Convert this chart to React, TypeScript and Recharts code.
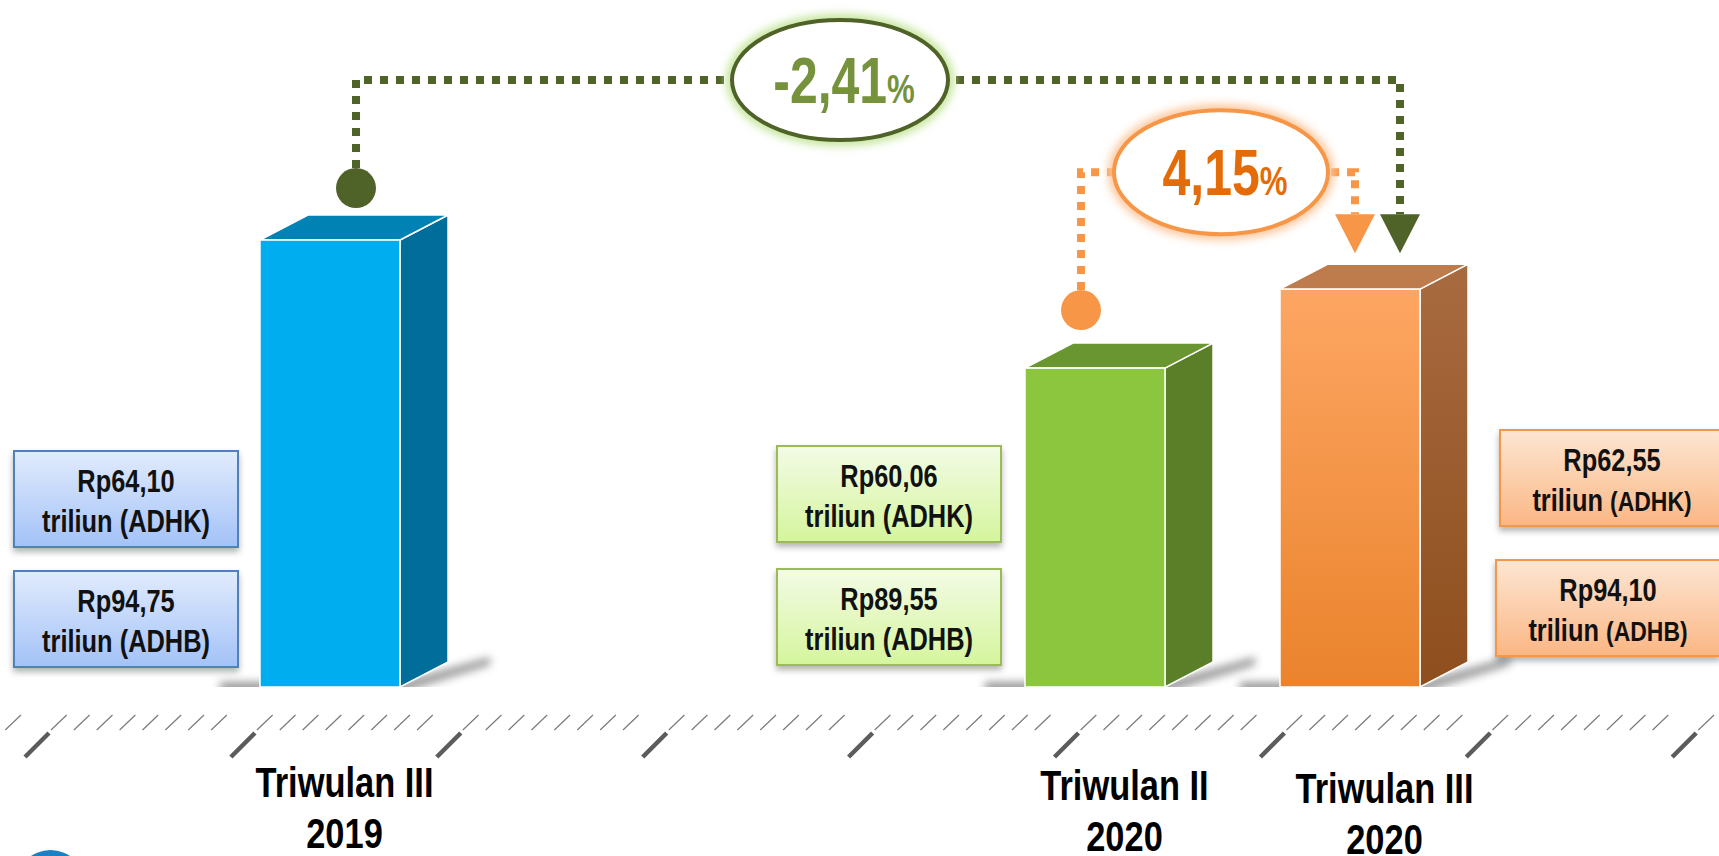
import React from 'react';
import { BarChart, Bar, XAxis, YAxis, ReferenceLine, Customized } from 'recharts';

// ---------- data ----------
const QUARTERS = ['Triwulan III 2019', 'Triwulan IV 2019', 'Triwulan I 2020', 'Triwulan II 2020', 'Triwulan III 2020'];
const ADHK = [64.1, null, null, 60.06, 62.55]; // triliun rupiah, constant prices
const ADHB = [94.75, null, null, 89.55, 94.1]; // triliun rupiah, current prices
const GROWTH_FROM = [0, 3];
const GROWTH_TO = [4, 4];
const GROWTH_VALUES = [-2.41, 4.15];

const data = QUARTERS.map((q, i) => ({ quarter: q, adhk: ADHK[i], adhb: ADHB[i] }));

// ---------- styles ----------
const FONT = "'Liberation Sans', Arial, sans-serif";
const NARROW_SCALE = 0.82;
const W = 1719;
const H = 856;
const DEPTH_X = 48;
const DEPTH_Y = 25;

type BarStyle = {
  front: string;
  side: string;
  top: string;
  boxTop: string;
  boxBottom: string;
  boxStroke: string;
  boxSide: 'left' | 'right';
  boxGap: number[];
  boxBottoms: number[];
  labelDx: number;
  labelDy: number;
  smallUnit: boolean;
};

const STYLES: (BarStyle | null)[] = [
  {
    front: '#00aeef', side: '#006d9b', top: '#0083b4',
    boxTop: '#e1ebfd', boxBottom: '#a3c2f7', boxStroke: '#4f81bd',
    boxSide: 'left', boxGap: [22, 22], boxBottoms: [140, 20], labelDx: 15, labelDy: 0, smallUnit: false,
  },
  null,
  null,
  {
    front: '#8cc63f', side: '#5b7f28', top: '#6a9632',
    boxTop: '#f3fbe6', boxBottom: '#d5f59c', boxStroke: '#9bbb59',
    boxSide: 'left', boxGap: [24, 24], boxBottoms: [145, 22], labelDx: 30, labelDy: 3, smallUnit: false,
  },
  {
    front: 'url(#orangeFront)', side: 'url(#orangeSide)', top: '#be7b4c',
    boxTop: '#fde6d3', boxBottom: '#fbb684', boxStroke: '#f79646',
    boxSide: 'right', boxGap: [32, 28], boxBottoms: [161, 31], labelDx: 35, labelDy: 6, smallUnit: true,
  },
];

type ConnStyle = {
  color: string; text: string; glow: string;
  fromDx: number; dotDy: number; toDx: number; tipDy: number; rise: number;
  ellDx: number; rx: number; ry: number;
};
const CONNECTORS: ConnStyle[] = [
  { color: '#4f6228', text: '#76923c', glow: '#c5e59b', fromDx: 26.5, dotDy: -52, toDx: 50.5, tipDy: -36, rise: 160, ellDx: -38, rx: 108, ry: 60 },
  { color: '#f79646', text: '#e36c09', glow: '#fcc79c', fromDx: -13.5, dotDy: -58, toDx: 5.5, tipDy: -36, rise: 117, ellDx: 3, rx: 107, ry: 62 },
];

const fmt = (v: number) => v.toFixed(2).replace('.', ',');

// narrow bold text (Arial-Narrow look made by squeezing Liberation Sans Bold)
function NText(props: { x: number; y: number; size: number; fill: string; children: React.ReactNode; scale?: number }) {
  const sc = props.scale ?? NARROW_SCALE;
  return (
    <text
      transform={`translate(${props.x},${props.y}) scale(${sc},1)`}
      x={0}
      y={0}
      textAnchor="middle"
      fontFamily={FONT}
      fontWeight="bold"
      fontSize={props.size}
      fill={props.fill}
    >
      {props.children}
    </text>
  );
}

// ---------- decoration: defs, timeline, logo ----------
function Decor() {
  const majors: number[] = [];
  for (let m = 0; m < 9; m++) majors.push(25 + 205.9 * m);
  const minors: number[] = [];
  for (let k = -2; 51 + 22.88 * k < W; k++) {
    const mod = ((k % 9) + 9) % 9;
    if (mod !== 8) minors.push(51 + 22.88 * k);
  }
  return (
    <g>
      <defs>
        <linearGradient id="orangeFront" x1="0" y1="0" x2="0" y2="1">
          <stop offset="0" stopColor="#fda663" />
          <stop offset="1" stopColor="#ea832c" />
        </linearGradient>
        <linearGradient id="orangeSide" x1="0" y1="0" x2="0" y2="1">
          <stop offset="0" stopColor="#a86b40" />
          <stop offset="1" stopColor="#8e4e1d" />
        </linearGradient>
        {STYLES.map((s, i) =>
          s ? (
            <linearGradient key={i} id={`box${i}`} x1="0" y1="0" x2="0" y2="1">
              <stop offset="0" stopColor={s.boxTop} />
              <stop offset="1" stopColor={s.boxBottom} />
            </linearGradient>
          ) : null
        )}
        <filter id="blur4" x="-50%" y="-50%" width="200%" height="200%">
          <feGaussianBlur stdDeviation="4" />
        </filter>
        <filter id="blurShadow" x="-50%" y="-300%" width="200%" height="700%">
          <feGaussianBlur stdDeviation="4" />
        </filter>
        <filter id="boxShadow" x="-20%" y="-20%" width="140%" height="150%">
          <feDropShadow dx="0" dy="4" stdDeviation="3" floodColor="#000" floodOpacity="0.3" />
        </filter>
      </defs>
      {minors.map((x, i) => (
        <line key={`mn${i}`} x1={x} y1={730} x2={x + 15.7} y2={715} stroke="#7a7a7a" strokeWidth={1.2} />
      ))}
      {majors.map((x, i) => (
        <line key={`mj${i}`} x1={x} y1={757} x2={x + 24} y2={733} stroke="#5c5c5c" strokeWidth={4.5} />
      ))}
      <circle cx={50.5} cy={885} r={35} fill="#1b80c4" />
    </g>
  );
}

// ---------- value boxes ----------
function ValueBoxes({ index, x, width, b }: { index: number; x: number; width: number; b: number }) {
  const s = STYLES[index] as BarStyle;
  const bw = 224;
  const bh = 96;
  const entries = [
    { v: ADHK[index] as number, unit: '(ADHK)' },
    { v: ADHB[index] as number, unit: '(ADHB)' },
  ];
  return (
    <g>
      {entries.map((e, k) => {
        const left = s.boxSide === 'left' ? x - s.boxGap[k] - bw : x + width + DEPTH_X + s.boxGap[k];
        const topY = b - s.boxBottoms[k] - bh;
        const cx = left + bw / 2;
        return (
          <g key={k}>
            <rect x={left} y={topY} width={bw} height={bh} fill={`url(#box${index})`} stroke={s.boxStroke}
              strokeWidth={2} filter="url(#boxShadow)" />
            <NText x={cx} y={topY + 41} size={31} fill="#111">{`Rp${fmt(e.v)}`}</NText>
            <NText x={cx} y={topY + 81} size={31} fill="#111">
              {'triliun '}
              {s.smallUnit ? <tspan fontSize={28}>{e.unit}</tspan> : e.unit}
            </NText>
          </g>
        );
      })}
    </g>
  );
}

// ---------- 3D bar ----------
function Bar3D(props: any) {
  const { x, y, width, height, payload } = props;
  const index = payload ? QUARTERS.indexOf(payload.quarter) : -1;
  const s = STYLES[index];
  if (!s || ADHK[index] == null || !isFinite(height) || !isFinite(y)) return null;
  const b = y + height;
  const r = x + width;
  const pts = (a: number[][]) => a.map((p) => p.join(',')).join(' ');
  const shadow = pts([
    [x - 40, b + 6], [r, b + 6], [r + DEPTH_X + 42, b - DEPTH_Y + 3],
    [r + DEPTH_X + 42, b - DEPTH_Y - 5], [r, b - 5], [x - 40, b - 5],
  ]);
  const top = pts([[x, y], [r, y], [r + DEPTH_X, y - DEPTH_Y], [x + DEPTH_X, y - DEPTH_Y]]);
  const side = pts([[r, y], [r + DEPTH_X, y - DEPTH_Y], [r + DEPTH_X, b - DEPTH_Y], [r, b]]);
  return (
    <g>
      <polygon points={shadow} fill="#444" opacity={0.55} filter="url(#blurShadow)" />
      <polygon points={side} fill={s.side} stroke="#ffffff" strokeWidth={1.5} strokeLinejoin="round" />
      <polygon points={top} fill={s.top} stroke="#ffffff" strokeWidth={1.5} strokeLinejoin="round" />
      <rect x={x} y={y} width={width} height={height} fill={s.front} stroke="#ffffff" strokeWidth={1.5} />
      <ValueBoxes index={index} x={x} width={width} b={b} />
    </g>
  );
}

// ---------- growth connectors ----------
function makeConnector(ci: number) {
  return function Connector(p: any) {
    const c = CONNECTORS[ci];
    const { x1, y1, x2, y2 } = p;
    if (![x1, y1, x2, y2].every((v) => isFinite(v))) return <g />;
    const sx = x1 + c.fromDx;
    const dotY = y1 + c.dotDy;
    const tx = x2 + c.toDx;
    const tipY = y2 + c.tipDy;
    const ly = Math.min(y1, y2) - c.rise;
    const ex = (sx + tx) / 2 + c.ellDx;
    const val = GROWTH_VALUES[ci];
    return (
      <g>
        <path d={`M${sx},${dotY - 20} V${ly} H${tx} V${tipY - 39}`} fill="none" stroke={c.color} strokeWidth={8}
          strokeDasharray="8 8" />
        <circle cx={sx} cy={dotY} r={20} fill={c.color} />
        <polygon points={`${tx - 20},${tipY - 39} ${tx + 20},${tipY - 39} ${tx},${tipY}`} fill={c.color} />
        <ellipse cx={ex} cy={ly} rx={c.rx} ry={c.ry} fill="none" stroke={c.glow} strokeWidth={12} filter="url(#blur4)" />
        <ellipse cx={ex} cy={ly} rx={c.rx} ry={c.ry} fill="#ffffff" stroke={c.color} strokeWidth={4} />
        <NText x={ex + 4} y={ly + 23} size={64} fill={c.text} scale={0.78}>
          {fmt(val)}
          <tspan fontSize={40}>%</tspan>
        </NText>
      </g>
    );
  };
}

// ---------- axis labels ----------
function QuarterTick(props: any) {
  const { x, y, payload } = props;
  const i = QUARTERS.indexOf(payload.value);
  const s = STYLES[i];
  if (!s || ADHK[i] == null) return <g />;
  const label: string = payload.value;
  const cut = label.lastIndexOf(' ');
  const line1 = label.slice(0, cut);
  const line2 = label.slice(cut + 1);
  const cx = x + s.labelDx;
  const base = y + 102 + s.labelDy;
  return (
    <g>
      <NText x={cx} y={base} size={42} fill="#000">{line1}</NText>
      <NText x={cx} y={base + 51} size={42} fill="#000">{line2}</NText>
    </g>
  );
}

export default function App() {
  return (
    <div style={{ position: 'absolute', left: 0, top: 0, width: W, height: H, background: '#ffffff', overflow: 'hidden' }}>
      <BarChart width={W} height={H} data={data} margin={{ top: 53, right: 242, bottom: 0, left: 202 }}>
        <Customized component={Decor} />
        <XAxis dataKey="quarter" axisLine={false} tickLine={false} height={169} interval={0} tick={<QuarterTick />} />
        <YAxis hide domain={[50, 70]} allowDataOverflow />
        <Bar dataKey="adhk" barSize={140} shape={<Bar3D />} isAnimationActive={false} />
        {GROWTH_VALUES.map((v, ci) => (
          <ReferenceLine
            key={ci}
            ifOverflow="visible"
            segment={[
              { x: QUARTERS[GROWTH_FROM[ci]], y: ADHK[GROWTH_FROM[ci]] as number },
              { x: QUARTERS[GROWTH_TO[ci]], y: ADHK[GROWTH_TO[ci]] as number },
            ]}
            shape={makeConnector(ci)}
          />
        ))}
      </BarChart>
    </div>
  );
}
